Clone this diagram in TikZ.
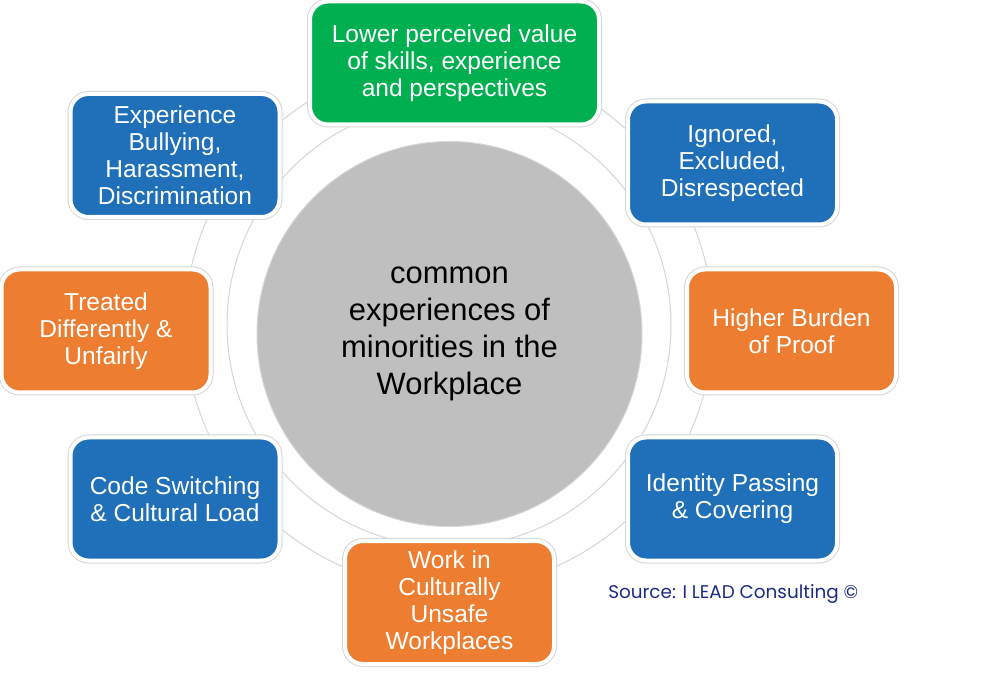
\documentclass[tikz,border=0pt]{standalone}
\usepackage{fontspec}
\setmainfont{Liberation Sans}
\newfontfamily\srcfont{Poppins}
\definecolor{cgreen}{HTML}{00B050}
\definecolor{cblue}{HTML}{1F70B8}
\definecolor{corange}{HTML}{ED7D31}
\definecolor{cgray}{HTML}{BFBFBF}
\definecolor{ringline}{HTML}{D6D6D6}
\definecolor{navy}{HTML}{1C2A84}
\tikzset{
  cbox/.style={rectangle, rounded corners=13.5pt, minimum width=156.75pt,
    minimum height=92.25pt, inner sep=0pt, align=center, text=white,
    font=\fontsize{18.4}{20.3}\selectfont, line width=3pt, draw=white,
    preaction={draw=ringline, line width=4.5pt}},
  wide/.style={minimum width=216.75pt},
  ringband/.style={fill=white, draw=ringline, line width=0.75pt, even odd rule},
}
\begin{document}
\begin{tikzpicture}[x=0.75pt, y=-0.75pt]
\useasboundingbox (0,0) rectangle (1000,673);
\coordinate (rc) at (449,325);
\path[ringband] (rc) circle[radius=198pt] (rc) circle[radius=166.5pt];
\node[circle, fill=cgray, draw=ringline, line width=0.75pt, minimum size=288.75pt,
  inner sep=0pt, align=center, font=\fontsize{23.2}{27.8}\selectfont] (center)
  at (449.5,334) {common\\experiences of\\minorities in the\\Workplace};
\node[cbox, wide, fill=cgreen] (top) at (454.5,63) {Lower perceived value\\of skills, experience\\and perspectives};
\node[cbox, fill=cblue] (ignored) at (732.5,163) {Ignored,\\Excluded,\\Disrespected};
\node[cbox, fill=corange] (burden) at (791.5,331) {Higher Burden\\of Proof};
\node[cbox, fill=cblue] (identity) at (732.5,499) {Identity Passing\\\& Covering};
\node[cbox, fill=corange] (work) at (449.5,602.5) {Work in\\Culturally\\Unsafe\\Workplaces};
\node[cbox, fill=cblue] (code) at (175,499) {Code Switching\\\& Cultural Load};
\node[cbox, fill=corange] (treated) at (106,331) {Treated\\Differently \&\\Unfairly};
\node[cbox, fill=cblue] (bully) at (175,155.5) {Experience\\Bullying,\\Harassment,\\Discrimination};
\node[anchor=west, inner sep=0pt, text=navy, font=\srcfont\fontsize{13.8}{16}\selectfont] (src)
  at (608,594) {Source: I LEAD Consulting ©};
\end{tikzpicture}
\end{document}
